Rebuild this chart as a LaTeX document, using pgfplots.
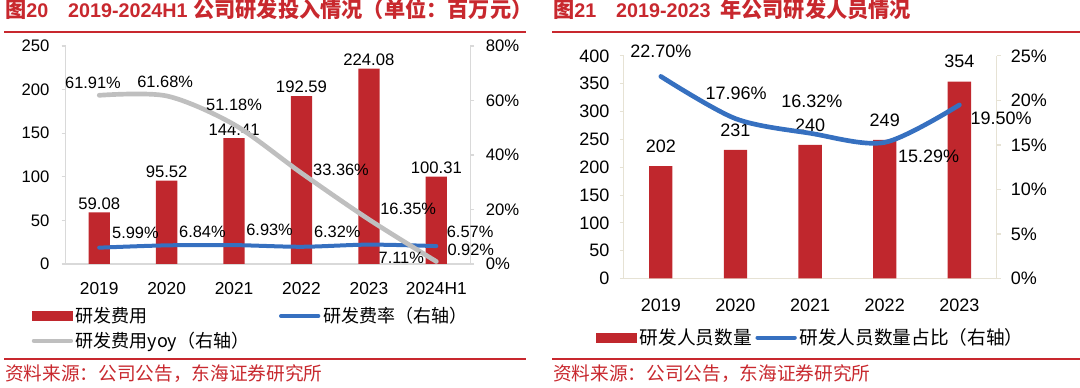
\documentclass[border=0pt]{standalone}
\usepackage{fontspec}
\setmainfont{Liberation Sans}
\newfontfamily\cjk{Noto Sans CJK SC}
\usepackage{pgfplots}
\pgfplotsset{compat=1.18}
\definecolor{tred}{RGB}{200,40,46}
\definecolor{bred}{RGB}{192,39,45}
\definecolor{lblue}{RGB}{54,112,192}
\definecolor{lgrey}{RGB}{191,191,191}
\definecolor{axg}{RGB}{217,217,217}
\definecolor{axb}{RGB}{230,226,212}
\newcommand{\fs}[1]{\fontsize{#1}{#1}\selectfont}
\pgfplotsset{
  base/.style={scale only axis, anchor=south west,
    /pgf/number format/assume math mode=true,
    tick align=outside, major tick length=3pt, clip=false},
  barimg/.style={legend image code/.code={\fill[bred] (0pt,-3.75pt) rectangle (31pt,3.75pt);}},
  lineimg/.style={legend image code/.code={\draw[#1,line width=3pt,line cap=round] (1.5pt,0pt) -- (29.5pt,0pt);}},
}
\begin{document}
\begin{tikzpicture}
\path[use as bounding box] (0pt,0pt) rectangle (810pt,291pt);
% ---------- titles, rules, sources
\node[anchor=west, inner sep=0pt, text=tred] at (3.75pt,283.9pt) {{\cjk\bfseries\fs{15.9}图}{\bfseries\fs{14.8}20\hspace{1em}2019-2024H1 }{\cjk\bfseries\fs{15.9}公司研发投入情况（单位：百万元）}};
\node[anchor=west, inner sep=0pt, text=tred] at (414.75pt,283.9pt) {{\cjk\bfseries\fs{15.9}图}{\bfseries\fs{14.8}21\hspace{1em}2019-2023\hspace{0.5em}}{\cjk\bfseries\fs{15.9}年公司研发人员情况}};
\draw[tred, line width=1.7pt] (3pt,267pt) -- (394.5pt,267pt);
\draw[tred, line width=1.7pt] (414pt,267pt) -- (810pt,267pt);
\draw[tred, line width=1.7pt] (3pt,21.75pt) -- (394.5pt,21.75pt);
\draw[tred, line width=1.7pt] (414pt,21.75pt) -- (810pt,21.75pt);
\node[anchor=west, inner sep=0pt, text=tred] at (3.75pt,10.5pt) {\cjk\fs{14}资料来源：公司公告，东海证券研究所};
\node[anchor=west, inner sep=0pt, text=tred] at (414.75pt,10.5pt) {\cjk\fs{14}资料来源：公司公告，东海证券研究所};

% ---------- left chart: bars
\begin{axis}[base, at={(49.125pt,93pt)}, width=303.4pt, height=163.5pt,
  xmin=-0.5, xmax=5.5, ymin=0, ymax=250,
  xtick={0,1,2,3,4,5}, xticklabels={2019,2020,2021,2022,2023,2024H1},
  ytick={0,50,100,150,200,250},
  axis x line*=bottom, axis y line*=left,
  axis line style={draw=axg, line width=0.8pt, -},
  ytick style={draw=axg, line width=0.8pt},
  xtick style={draw=none},
  yticklabel style={font=\fs{12.5}, xshift=-5.5pt},
  xticklabel style={font=\fs{13}, yshift=-7pt},
  legend columns=2, legend cell align=left,
  legend style={draw=none, fill=none, inner sep=0pt, outer sep=0pt,
    at={(-0.0834,-0.1865)}, anchor=north west, font=\cjk\fs{13.5},
    /tikz/every even column/.append style={column sep=20.3pt},
    row sep=1.5pt, nodes={inner sep=2pt}},
]
\addplot[ybar, bar width=15.96pt, fill=bred, draw=none, barimg,
  nodes near coords, point meta=y,
  nodes near coords style={font=\fs{12.5}, anchor=south, inner sep=0pt, yshift=2pt, text=black}]
  coordinates {(0,59.08) (1,95.52) (2,144.41) (3,192.59) (4,224.08) (5,100.31)};
\addlegendentry{研发费用}
\addlegendimage{lineimg=lblue}
\addlegendentry{研发费率（右轴）}
\addlegendimage{lineimg=lgrey}
\addlegendentry{研发费用yoy（右轴）}
\end{axis}

% ---------- left chart: lines
\begin{axis}[base, at={(49.125pt,93pt)}, width=303.4pt, height=163.5pt,
  xmin=-0.5, xmax=5.5, ymin=0, ymax=80,
  axis x line=none, axis y line*=right,
  axis line style={draw=axg, line width=0.8pt, -},
  ytick={0,20,40,60,80},
  ytick style={draw=axg, line width=0.8pt},
  yticklabel={\pgfmathprintnumber{\tick}\%},
  yticklabel style={font=\fs{12.5}, xshift=5.3pt},
]
\addplot[lblue, line width=3pt, smooth, line cap=round]
  coordinates {(0,5.99) (1,6.84) (2,6.93) (3,6.32) (4,7.11) (5,6.57)};
\addplot[lgrey, line width=3.5pt, smooth, line cap=round]
  coordinates {(0,61.91) (1,61.68) (2,51.18) (3,33.36) (4,16.35) (5,0.92)};
\begin{scope}[every node/.style={font=\fs{12.3}, inner sep=0pt}]
\node[xshift=-4.7pt, yshift=9pt] at (axis cs:0,61.91) {61.91\%};
\node[xshift=-1.1pt, yshift=10.5pt] at (axis cs:1,61.68) {61.68\%};
\node[yshift=14.6pt] at (axis cs:2,51.18) {51.18\%};
\node[anchor=west, xshift=8.6pt, yshift=2.3pt] at (axis cs:3,33.36) {33.36\%};
\node[anchor=west, xshift=8.4pt, yshift=8.3pt] at (axis cs:4,16.35) {16.35\%};
\node[anchor=west, xshift=8.2pt, yshift=8.6pt] at (axis cs:5,0.92) {0.92\%};
\node[anchor=west, xshift=9.5pt, yshift=11.2pt] at (axis cs:0,5.99) {5.99\%};
\node[anchor=west, xshift=9.2pt, yshift=10pt] at (axis cs:1,6.84) {6.84\%};
\node[anchor=west, xshift=9pt, yshift=11.3pt] at (axis cs:2,6.93) {6.93\%};
\node[anchor=west, xshift=9.2pt, yshift=11pt] at (axis cs:3,6.32) {6.32\%};
\node[anchor=west, xshift=7.1pt, yshift=-10.3pt] at (axis cs:4,7.11) {7.11\%};
\node[anchor=west, xshift=7.7pt, yshift=10.5pt] at (axis cs:5,6.57) {6.57\%};
\end{scope}
\end{axis}

% ---------- right chart: bars
\begin{axis}[base, at={(467.625pt,82.125pt)}, width=279.9pt, height=166.9pt,
  xmin=-0.5, xmax=4.5, ymin=0, ymax=400,
  xtick={0,1,2,3,4}, xticklabels={2019,2020,2021,2022,2023},
  ytick={0,50,100,150,200,250,300,350,400},
  axis x line*=bottom, axis y line*=left,
  axis line style={draw=axb, line width=0.8pt, -},
  ytick style={draw=axb, line width=0.8pt},
  xtick style={draw=none},
  yticklabel style={font=\fs{13.5}, xshift=-4pt},
  xticklabel style={font=\fs{13.5}, yshift=-8.5pt},
  legend columns=2, legend cell align=left,
  legend style={draw=none, fill=none, inner sep=0pt, outer sep=0pt,
    at={(-0.074,-0.213)}, anchor=north west, font=\cjk\fs{14},
    /tikz/every even column/.append style={column sep=0.7pt},
    nodes={inner sep=2pt}},
]
\addplot[ybar, bar width=17.5pt, fill=bred, draw=none, barimg,
  nodes near coords, point meta=y,
  nodes near coords style={font=\fs{13.5}, anchor=south, inner sep=0pt, yshift=10pt, text=black}]
  coordinates {(0,202) (1,231) (2,240) (3,249) (4,354)};
\addlegendentry{研发人员数量}
\addlegendimage{lineimg=lblue}
\addlegendentry{研发人员数量占比（右轴）}
\end{axis}

% ---------- right chart: line
\begin{axis}[base, at={(467.625pt,82.125pt)}, width=279.9pt, height=166.9pt,
  xmin=-0.5, xmax=4.5, ymin=0, ymax=25,
  axis x line=none, axis y line*=right,
  axis line style={draw=axb, line width=0.8pt, -},
  ytick={0,5,10,15,20,25},
  ytick style={draw=axb, line width=0.8pt},
  yticklabel={\pgfmathprintnumber{\tick}\%},
  yticklabel style={font=\fs{13.5}, xshift=4pt},
]
\addplot[lblue, line width=3.5pt, smooth, line cap=round]
  coordinates {(0,22.70) (1,17.96) (2,16.32) (3,15.29) (4,19.50)};
\begin{scope}[every node/.style={font=\fs{13.5}, inner sep=0pt}]
\node[yshift=18.6pt] at (axis cs:0,22.70) {22.70\%};
\node[xshift=0.5pt, yshift=19pt] at (axis cs:1,17.96) {17.96\%};
\node[xshift=1.4pt, yshift=23.7pt] at (axis cs:2,16.32) {16.32\%};
\node[anchor=west, xshift=9.8pt, yshift=-10.7pt] at (axis cs:3,15.29) {15.29\%};
\node[anchor=west, xshift=8.2pt, yshift=-10pt] at (axis cs:4,19.50) {19.50\%};
\end{scope}
\end{axis}
\end{tikzpicture}
\end{document}
